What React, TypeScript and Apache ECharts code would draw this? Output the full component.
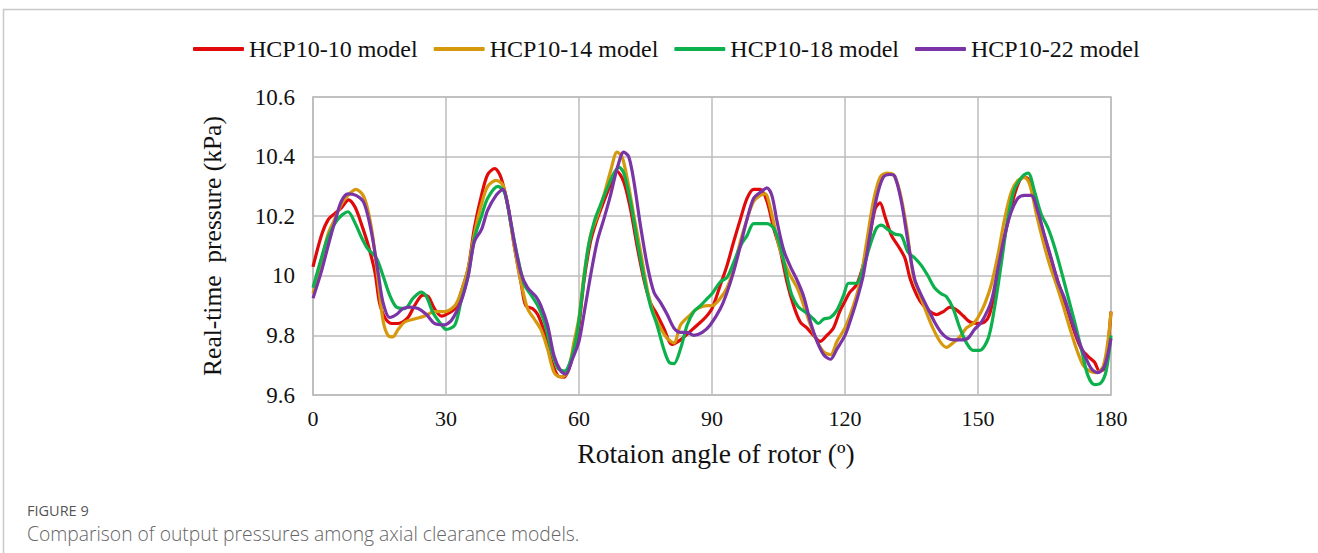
import React, { useEffect, useRef } from "react";
import * as echarts from "echarts";

const seriesNames = ["HCP10-10 model", "HCP10-14 model", "HCP10-18 model", "HCP10-22 model"];
const seriesColors = ["#e00a0a", "#d6980c", "#0cb04c", "#7a34a6"];
const xTickValues = [0, 30, 60, 90, 120, 150, 180];

// [rotation angle (deg), pressure (kPa)]
const hcp1010: [number, number][] = [
  [0, 10.03], [2, 10.14], [3.5, 10.19], [5, 10.21], [6.5, 10.23], [8, 10.255], [9.5, 10.23], [11, 10.17],
  [12.5, 10.1], [14, 10.01], [15, 9.91], [16.2, 9.86], [17.7, 9.84], [19.2, 9.84], [21.4, 9.86], [22.9, 9.9],
  [24.8, 9.935], [26, 9.93], [27.4, 9.89], [29, 9.865], [30, 9.87], [32, 9.89], [33.4, 9.945], [35, 10.025],
  [36.4, 10.16], [38, 10.27], [39.4, 10.34], [41, 10.36], [42.4, 10.33], [44, 10.23], [45.4, 10.1], [47, 9.97],
  [48, 9.9], [49.5, 9.89], [50.7, 9.87], [52.2, 9.81], [53.7, 9.72], [55.2, 9.665], [56.7, 9.66], [58.2, 9.71],
  [59.7, 9.8], [61.1, 9.98], [62.6, 10.115], [64.1, 10.19], [65.6, 10.25], [67.1, 10.305], [68.6, 10.35],
  [70.1, 10.315], [71.6, 10.225], [73.1, 10.1], [74.6, 9.99], [76.1, 9.91], [77.6, 9.87], [79.1, 9.825],
  [81, 9.77], [82.9, 9.785], [84.8, 9.81], [86.7, 9.835], [88.5, 9.86], [90, 9.89], [91.9, 9.97], [93.4, 10.035],
  [94.9, 10.115], [96.4, 10.19], [97.9, 10.26], [99.4, 10.29], [100.9, 10.29], [102.4, 10.25], [103.9, 10.16],
  [105.4, 10.085], [106.9, 9.98], [108.4, 9.9], [109.9, 9.845], [111.4, 9.825], [112.9, 9.8], [114.4, 9.78],
  [115.9, 9.8], [117.4, 9.825], [118.8, 9.88], [120, 9.915], [121.1, 9.945], [122.6, 9.97], [124.1, 10.035],
  [125.6, 10.135], [126.8, 10.225], [127.9, 10.245], [129, 10.2], [130.5, 10.135], [132, 10.1], [133.5, 10.06],
  [134.7, 9.99], [136.2, 9.935], [137.7, 9.9], [139.2, 9.88], [140.7, 9.87], [142.2, 9.88], [143.7, 9.895],
  [145.2, 9.885], [146.7, 9.865], [148.2, 9.845], [150, 9.84], [151.5, 9.845], [152.6, 9.87], [154.1, 9.97],
  [155.6, 10.1], [157.1, 10.205], [158.6, 10.29], [160.1, 10.33], [161.3, 10.325], [162.8, 10.26], [164.3, 10.17],
  [165.8, 10.09], [167.3, 10.015], [168.8, 9.945], [170.3, 9.88], [171.8, 9.81], [173.3, 9.755], [174.8, 9.73],
  [176.3, 9.71], [177.4, 9.68], [178.6, 9.69], [180, 9.88],
];

const hcp1014: [number, number][] = [
  [0, 9.94], [1.9, 10.05], [3.4, 10.14], [4.9, 10.19], [6.4, 10.24], [7.9, 10.27], [9.7, 10.29], [11.3, 10.27],
  [12.4, 10.22], [13.5, 10.13], [14.7, 9.98], [15.8, 9.85], [16.9, 9.8], [18, 9.795], [19.2, 9.82], [20.7, 9.845],
  [22.9, 9.855], [25.2, 9.865], [27.4, 9.88], [29.7, 9.88], [32, 9.9], [33.4, 9.945], [35, 10.025], [36.4, 10.14],
  [38, 10.24], [39.4, 10.3], [41.3, 10.32], [42.8, 10.305], [43.9, 10.24], [45.4, 10.1], [46.9, 9.98], [48.4, 9.89],
  [49.9, 9.855], [51.4, 9.82], [52.9, 9.755], [54.4, 9.675], [55.9, 9.66], [57.4, 9.675], [58.9, 9.78], [60, 9.86],
  [61.1, 10.0], [62.6, 10.135], [64.1, 10.2], [65.6, 10.27], [67.1, 10.35], [68.6, 10.415], [69.7, 10.4],
  [70.9, 10.325], [72.4, 10.2], [73.9, 10.08], [75.4, 9.955], [76.9, 9.87], [78.4, 9.825], [79.9, 9.79],
  [81.4, 9.775], [82.9, 9.835], [84.8, 9.865], [86.7, 9.89], [88.9, 9.9], [90, 9.9], [91.9, 9.925], [93.4, 9.96],
  [94.9, 10.025], [96.4, 10.115], [97.9, 10.19], [99.4, 10.25], [100.9, 10.27], [102, 10.275], [103.2, 10.225],
  [104.7, 10.125], [106.2, 10.05], [107.7, 10.0], [109.2, 9.96], [110.7, 9.9], [112.2, 9.835], [113.7, 9.78],
  [115.2, 9.745], [116.7, 9.735], [118.2, 9.78], [120, 9.825], [121.9, 9.9], [123.4, 9.98], [124.9, 10.115],
  [126.4, 10.25], [127.9, 10.33], [129.4, 10.345], [130.9, 10.34], [132.4, 10.28], [133.9, 10.16], [135.4, 10.0],
  [136.9, 9.935], [138.3, 9.88], [139.8, 9.825], [141.4, 9.78], [142.9, 9.76], [144.4, 9.775], [145.9, 9.795],
  [147.4, 9.825], [148.9, 9.84], [150, 9.86], [151.5, 9.905], [153, 9.97], [154.5, 10.07], [156, 10.19],
  [157.5, 10.28], [159, 10.32], [160.5, 10.33], [161.7, 10.305], [163.2, 10.205], [164.7, 10.115], [166.2, 10.035],
  [167.7, 9.97], [169.2, 9.9], [170.7, 9.825], [172.2, 9.755], [173.7, 9.7], [175.2, 9.68], [176.7, 9.675],
  [178.2, 9.695], [179.3, 9.78], [180, 9.88],
];

const hcp1018: [number, number][] = [
  [0, 9.96], [1.9, 10.06], [3.4, 10.13], [5.6, 10.19], [7.9, 10.215], [9.4, 10.18], [10.9, 10.13], [12.4, 10.09],
  [14.3, 10.06], [15.8, 10.0], [17.3, 9.935], [18.8, 9.895], [20.7, 9.89], [22.6, 9.925], [24.4, 9.945],
  [25.6, 9.93], [27.1, 9.875], [29, 9.835], [30, 9.82], [32, 9.835], [33.4, 9.915], [35, 10.0], [36.4, 10.125],
  [38, 10.2], [39.4, 10.26], [41.7, 10.3], [43.2, 10.28], [44.7, 10.17], [46.2, 10.06], [47.7, 9.97], [49.2, 9.935],
  [50.7, 9.9], [52.2, 9.845], [53.7, 9.755], [55.2, 9.69], [56.7, 9.68], [58.2, 9.72], [59.7, 9.82], [61.9, 10.08],
  [63.4, 10.18], [64.9, 10.24], [66.4, 10.295], [67.9, 10.345], [69, 10.365], [70.1, 10.345], [71.6, 10.25],
  [73.1, 10.12], [74.6, 10.0], [76.1, 9.9], [77.6, 9.835], [79.1, 9.755], [80.3, 9.71], [81.4, 9.705],
  [82.9, 9.755], [84.4, 9.835], [85.9, 9.88], [87.4, 9.9], [89, 9.925], [90, 9.94], [91.9, 9.98], [93.4, 9.995],
  [94.9, 10.045], [96.4, 10.1], [97.9, 10.135], [99.4, 10.175], [100.9, 10.175], [102.4, 10.175], [103.9, 10.16],
  [105.4, 10.1], [106.9, 10.0], [108, 9.935], [109.5, 9.895], [111.4, 9.875], [112.9, 9.855], [114, 9.84],
  [115.2, 9.855], [116.7, 9.86], [118.2, 9.885], [119.7, 9.935], [120.8, 9.975], [122.6, 9.975], [124.1, 10.025],
  [125.6, 10.1], [127.1, 10.16], [128.2, 10.17], [129.7, 10.155], [131.2, 10.14], [132.7, 10.135], [134.2, 10.08],
  [135.7, 10.06], [137.2, 10.035], [138.7, 10.0], [140.2, 9.96], [141.7, 9.94], [142.9, 9.93], [144.4, 9.89],
  [145.9, 9.825], [147.4, 9.775], [148.9, 9.75], [150.4, 9.75], [152.3, 9.79], [153.7, 9.89], [155.2, 10.035],
  [156.7, 10.19], [158.2, 10.29], [160.1, 10.335], [161.3, 10.345], [162.8, 10.28], [164.3, 10.205],
  [165.8, 10.16], [167.3, 10.095], [168.8, 10.015], [170.3, 9.93], [171.8, 9.845], [173.3, 9.755], [174.8, 9.665],
  [176.3, 9.635], [177.7, 9.64], [178.9, 9.68], [180, 9.8],
];

const hcp1022: [number, number][] = [
  [0, 9.925], [1.9, 10.015], [3.4, 10.1], [4.9, 10.18], [6.4, 10.25], [7.9, 10.275], [9.7, 10.27], [11.3, 10.25],
  [12.4, 10.2], [13.5, 10.12], [14.7, 10.01], [15.8, 9.91], [17.3, 9.86], [18.8, 9.87], [20.3, 9.89], [21.8, 9.895],
  [23.7, 9.89], [25.6, 9.87], [27.4, 9.84], [29.4, 9.835], [31.2, 9.85], [33.4, 9.915], [35, 10.0], [36.4, 10.115],
  [38, 10.155], [39.4, 10.22], [41.3, 10.27], [42.8, 10.29], [43.9, 10.24], [45.4, 10.115], [46.9, 10.01],
  [48.4, 9.96], [50.3, 9.93], [51.4, 9.9], [52.9, 9.835], [54.4, 9.73], [55.9, 9.68], [57, 9.67], [58.5, 9.72],
  [60, 9.78], [61.1, 9.87], [62.6, 10.0], [64.1, 10.115], [65.6, 10.19], [67.1, 10.27], [68.6, 10.36],
  [70.1, 10.415], [71.2, 10.4], [72.4, 10.315], [73.9, 10.165], [75.4, 10.035], [76.9, 9.945], [78.4, 9.91],
  [79.9, 9.87], [81.4, 9.825], [82.9, 9.81], [84.4, 9.81], [85.9, 9.8], [87.8, 9.81], [89.6, 9.835], [91.9, 9.89],
  [93.4, 9.945], [94.9, 10.015], [96.4, 10.1], [97.9, 10.19], [99.4, 10.26], [100.9, 10.28], [102.4, 10.295],
  [103.5, 10.27], [104.7, 10.18], [106.2, 10.085], [107.7, 10.03], [109.2, 9.985], [110.7, 9.93], [112.2, 9.845],
  [113.7, 9.78], [115.2, 9.735], [116.7, 9.72], [118.2, 9.755], [120, 9.8], [121.1, 9.845], [122.6, 9.915],
  [124.1, 10.0], [125.6, 10.135], [127.1, 10.26], [128.6, 10.33], [130.1, 10.34], [131.2, 10.335], [132.7, 10.25],
  [134.2, 10.115], [135.7, 9.99], [137.2, 9.935], [138.7, 9.89], [140.2, 9.845], [141.7, 9.81], [143.2, 9.79],
  [144.7, 9.785], [146.2, 9.785], [147.7, 9.79], [149.2, 9.82], [150.8, 9.845], [153, 9.915], [154.5, 10.025],
  [156, 10.135], [157.5, 10.215], [159, 10.26], [160.5, 10.27], [162, 10.27], [163.5, 10.215], [165, 10.135],
  [166.5, 10.06], [168, 9.98], [169.5, 9.925], [171, 9.855], [172.5, 9.79], [174, 9.735], [175.5, 9.69],
  [177, 9.675], [178.5, 9.695], [180, 9.79],
];

const allSeries = [hcp1010, hcp1014, hcp1018, hcp1022];

export default function App() {
  const ref = useRef<HTMLDivElement>(null);

  useEffect(() => {
    document.body.style.margin = "0";
    if (!ref.current) return;
    const chart = echarts.init(ref.current, null, { renderer: "svg" });
    const serif = "'Liberation Serif', 'Times New Roman', serif";
    const sans = "'Open Sans', 'Noto Sans', sans-serif";
    const gridColor = "#bdbdbd";
    chart.setOption({
      animation: false,
      backgroundColor: "#ffffff",
      textStyle: { fontFamily: serif },
      legend: {
        left: 193,
        top: 37,
        padding: 0,
        itemWidth: 51,
        itemHeight: 4,
        itemGap: 16,
        icon: "roundRect",
        textStyle: { fontFamily: serif, fontSize: 24, color: "#111" },
        data: seriesNames,
      },
      grid: {
        left: 313,
        right: 207,
        top: 97,
        bottom: 158,
        show: true,
        borderColor: gridColor,
        borderWidth: 1.5,
      },
      xAxis: {
        type: "value",
        min: 0,
        max: 180,
        interval: 30,
        name: "Rotaion angle of rotor (º)",
        nameLocation: "middle",
        nameGap: 44,
        nameTextStyle: { fontFamily: serif, fontSize: 27.5, color: "#111", padding: [0, 0, 0, 8] },
        axisLine: { show: true, lineStyle: { color: gridColor, width: 1.5 } },
        axisTick: { show: false },
        axisLabel: {
          margin: 12,
          fontFamily: serif,
          fontSize: 22,
          color: "#111",
          customValues: xTickValues,
        },
        splitLine: { show: true, lineStyle: { color: gridColor, width: 1.5 } },
      },
      yAxis: {
        type: "value",
        min: 9.6,
        max: 10.6,
        interval: 0.2,
        name: "Real-time  pressure (kPa)",
        nameLocation: "middle",
        nameGap: 88,
        nameTextStyle: { fontFamily: serif, fontSize: 25.5, color: "#111" },
        axisLine: { show: true, lineStyle: { color: gridColor, width: 1.5 } },
        axisTick: { show: false },
        axisLabel: { margin: 18, fontFamily: serif, fontSize: 23, color: "#111" },
        splitLine: { show: true, lineStyle: { color: gridColor, width: 1.5 } },
      },
      series: allSeries.map((d, i) => ({
        name: seriesNames[i],
        type: "line",
        data: d,
        smooth: 0.3,
        symbol: "none",
        lineStyle: { color: seriesColors[i], width: 3.2 },
        itemStyle: { color: seriesColors[i] },
        z: 2 + i,
      })),
      graphic: [
        {
          type: "polyline",
          shape: { points: [[3.5, 600], [3.5, 9.5], [1330, 9.5]] },
          style: { stroke: "#c8c8c8", lineWidth: 1.5, fill: "none" },
          silent: true,
        },
        {
          type: "text",
          left: 27,
          top: 503,
          style: {
            text: "FIGURE 9",
            fontFamily: sans,
            fontSize: 14.5,
            lineHeight: 14,
            fill: "#555",
          },
        },
        {
          type: "text",
          left: 27,
          top: 524,
          style: {
            text: "Comparison of output pressures among axial clearance models.",
            fontFamily: sans,
            fontSize: 19.3,
            lineHeight: 19,
            fontWeight: 300,
            fill: "#666",
          },
        },
      ],
    });
    return () => chart.dispose();
  }, []);

  return <div ref={ref} style={{ width: 1318, height: 553 }} />;
}
